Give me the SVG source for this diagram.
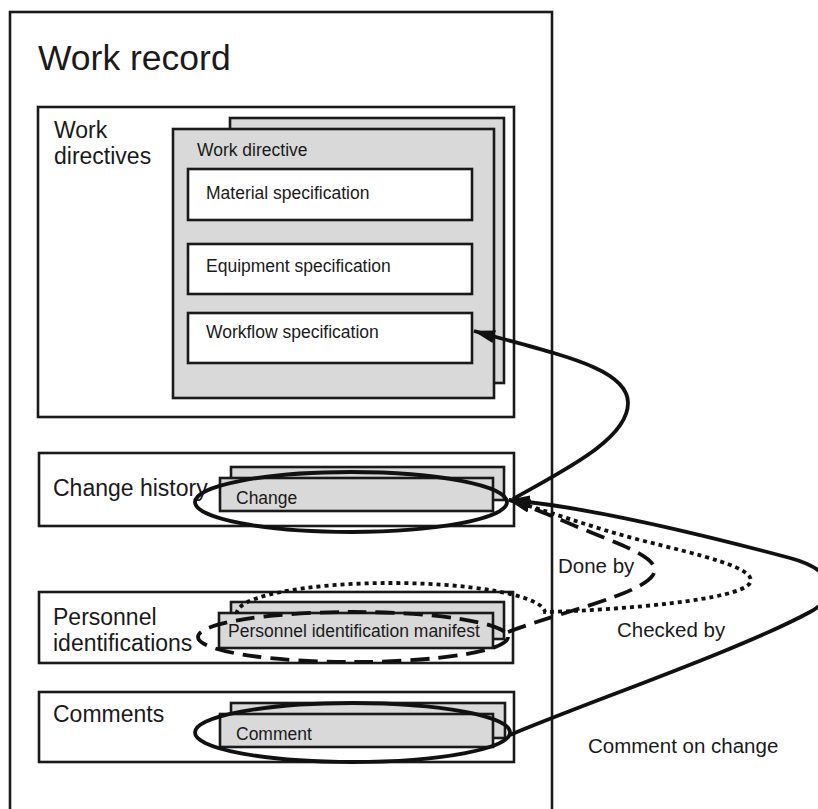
<svg xmlns="http://www.w3.org/2000/svg" width="818" height="809" viewBox="0 0 818 809">
<defs>
<style>
.box{fill:#ffffff;stroke:#1a1a1a;stroke-width:2.6}
.gray{fill:#d9d9d9;stroke:#1a1a1a;stroke-width:2.6}
.t{font-family:"Liberation Sans",Arial,sans-serif;fill:#1a1a1a}
.s{font-size:17.5px}
.m{font-size:23px}
.l{font-size:20.5px}
.ell{fill:none;stroke:#111;stroke-width:3.8}
.con{fill:none;stroke:#111;stroke-width:3.8}
.dash{stroke-dasharray:19 9}
.dot{stroke-dasharray:4 4}
</style>
<marker id="arr" markerUnits="userSpaceOnUse" markerWidth="22" markerHeight="13" viewBox="0 0 22 13" refX="21" refY="6.5" orient="auto">
<path d="M0,0 L22,6.5 L0,13 z" fill="#111"/>
</marker>
</defs>
<rect x="0" y="0" width="818" height="809" fill="#ffffff"/>

<g id="work-record">
<rect class="box" x="10" y="12" width="542" height="820"/>
<text class="t" x="38" y="70" font-size="35.5">Work record</text>
</g>

<g id="work-directives">
<rect class="box" x="38" y="107" width="476" height="310"/>
<text class="t m" x="54" y="138">Work</text>
<text class="t m" x="54" y="164">directives</text>
</g>

<g id="work-directive">
<rect class="gray" x="230" y="118" width="274" height="265"/>
<rect class="gray" x="173" y="129" width="321" height="269"/>
<text class="t s" x="197" y="156">Work directive</text>
</g>

<g id="material-specification">
<rect class="box" x="188" y="169" width="284" height="51"/>
<text class="t s" x="206" y="199">Material specification</text>
</g>

<g id="equipment-specification">
<rect class="box" x="188" y="244" width="284" height="50"/>
<text class="t s" x="206" y="272">Equipment specification</text>
</g>

<g id="workflow-specification">
<rect class="box" x="188" y="313" width="284" height="50"/>
<text class="t s" x="206" y="338">Workflow specification</text>
</g>

<g id="change-history">
<rect class="box" x="39" y="453" width="475" height="73"/>
<text class="t m" x="53" y="496">Change history</text>
</g>

<g id="change">
<rect class="gray" x="231" y="467" width="273" height="33"/>
<rect class="gray" x="220" y="478" width="273" height="33"/>
<text class="t s" x="236" y="504">Change</text>
<ellipse class="ell" cx="351" cy="502" rx="156" ry="30"/>
</g>

<g id="personnel-identifications">
<rect class="box" x="39" y="592" width="474" height="71"/>
<text class="t m" x="53" y="625">Personnel</text>
<text class="t m" x="53" y="651">identifications</text>
</g>

<g id="personnel-identification-manifest">
<rect class="gray" x="231" y="602" width="273" height="37"/>
<rect class="gray" x="219" y="613" width="274" height="35"/>
<text class="t s" x="228" y="637">Personnel identification manifest</text>
<ellipse class="ell dash" cx="353" cy="637" rx="155" ry="25"/>
</g>

<g id="comments">
<rect class="box" x="39" y="692" width="475" height="70"/>
<text class="t m" x="53" y="722">Comments</text>
</g>

<g id="comment">
<rect class="gray" x="231" y="703" width="274" height="35"/>
<rect class="gray" x="220" y="714" width="273" height="33"/>
<text class="t s" x="236" y="740">Comment</text>
<ellipse class="ell" cx="352.5" cy="732.5" rx="157.5" ry="29.5"/>
</g>

<g id="connectors">
<path class="con" d="M 513,499 C 560,472 628,440 628,403 C 628,368 560,355 474,331" marker-end="url(#arr)"/>
<path class="con" d="M 510,735 C 580,705 740,650 810,612 C 840,596 835,570 790,558 C 745,546 600,508 509,500" marker-end="url(#arr)"/>
<path class="con dot" d="M 237,614 A 154 30 0 0 1 545,612 C 620,610 740,600 750,583 C 758,568 700,555 640,540 C 590,527 545,510 509,500" marker-end="url(#arr)"/>
<path class="con dash" d="M 508,632 C 560,612 640,595 653,575 C 662,560 630,548 590,532 C 560,520 535,508 509,500" marker-end="url(#arr)"/>
</g>

<g id="labels">
<text class="t l" x="558" y="573">Done by</text>
<text class="t l" x="617" y="637">Checked by</text>
<text class="t l" x="588" y="753">Comment on change</text>
</g>
</svg>
